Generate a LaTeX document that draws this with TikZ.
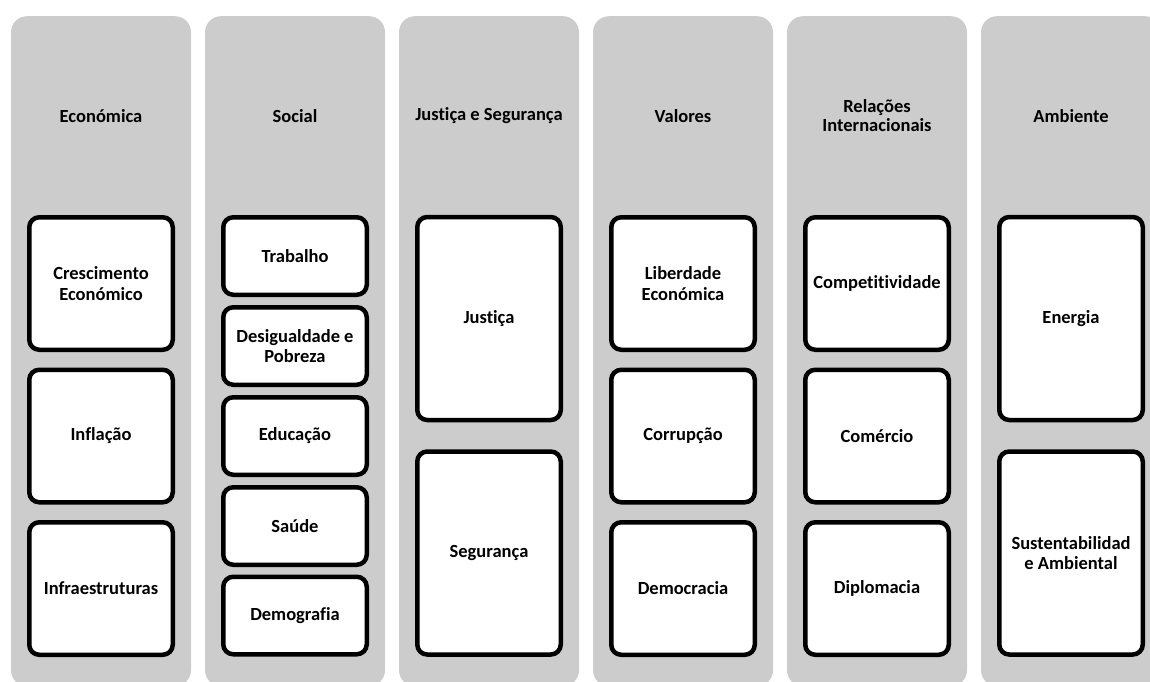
\documentclass[tikz,border=0pt]{standalone}
\usepackage{fontspec}
\setmainfont[Ligatures=NoCommon]{Carlito}
\definecolor{colgray}{HTML}{CCCCCC}
\begin{document}
\begin{tikzpicture}[x=1pt, y=-1pt,
  column/.style={fill=colgray, rounded corners=16pt, minimum width=180pt, minimum height=670pt, anchor=north, inner sep=0pt},
  title/.style={font=\fontsize{18.5}{19}\selectfont\bfseries, align=center},
  item/.style={draw=black, line width=4.5pt, fill=white, rounded corners=10pt, minimum width=143.5pt, font=\fontsize{18.5}{20.5}\selectfont\bfseries, align=center, inner sep=2pt},
  big/.style={item, minimum height=132.5pt},
  small/.style={item, minimum height=77.5pt},
  tall/.style={item, minimum height=203pt}]
\useasboundingbox (0,0) rectangle (1150,681);
\clip (0,0) rectangle (1150,681);
% gray columns
\node[column] (col1) at (101,16) {};
\node[column] (col2) at (295,16) {};
\node[column] (col3) at (489,16) {};
\node[column] (col4) at (683,16) {};
\node[column] (col5) at (877,16) {};
\node[column] (col6) at (1071,16) {};
% titles
\node[title] (t1) at (101,116) {Económica};
\node[title] (t2) at (295,116) {Social};
\node[title] (t3) at (489,116) {Justiça e Segurança};
\node[title] (t4) at (683,116) {Valores};
\node[title] (t5) at (877,116) {Relações\\Internacionais};
\node[title] (t6) at (1071,116) {Ambiente};
% Económica
\node[big] (cresc) at (101,283.5) {Crescimento\\Económico};
\node[big] (infl) at (101,436) {Inflação};
\node[big] (infra) at (101,588.5) {Infraestruturas};
% Social
\node[small] (trab) at (295,256) {Trabalho};
\node[small] (desig) at (295,346) {Desigualdade e\\Pobreza};
\node[small] (educ) at (295,436) {Educação};
\node[small] (saude) at (295,526) {Saúde};
\node[small] (demog) at (295,615.5) {Demografia};
% Justiça e Segurança
\node[tall] (just) at (489,318.5) {Justiça};
\node[tall] (seg) at (489,553) {Segurança};
% Valores
\node[big] (liber) at (683,283.5) {Liberdade\\Económica};
\node[big] (corr) at (683,436) {Corrupção};
\node[big] (democ) at (683,588.5) {Democracia};
% Relações Internacionais
\node[big] (compet) at (877,283.5) {Competitividade};
\node[big] (comer) at (877,436) {Comércio};
\node[big] (diplo) at (877,588.5) {Diplomacia};
% Ambiente
\node[tall] (energ) at (1071,318.5) {Energia};
\node[tall] (sust) at (1071,553) {Sustentabilidad\\e Ambiental};
\end{tikzpicture}
\end{document}
